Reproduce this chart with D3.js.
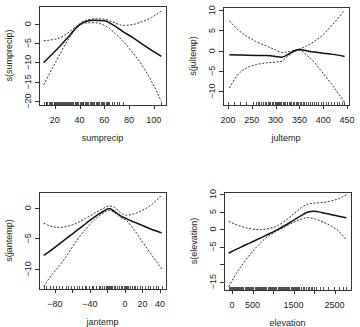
<!DOCTYPE html>
<html>
<head>
<meta charset="utf-8">
<script src="https://cdn.jsdelivr.net/npm/d3@7"></script>
<style>
body { margin: 0; background: #fff; }
svg text { font-family: "Liberation Sans", Arial, sans-serif; font-size: 9px; fill: #222; }
</style>
</head>
<body>
<svg id="chart" width="360" height="327"></svg>
<script>

// sumprecip
const sumprecipX     = [11, 18, 25, 32, 38, 45, 52, 60, 67, 75, 83, 90, 98, 106];
const sumprecipFit   = [-10, -7.8, -5.5, -3.0, -0.8, 0.6, 0.9, 0.8, -0.3, -2.0, -3.6, -5.1, -6.8, -8.4];
const sumprecipUpper = [-4.4, -4.1, -3.5, -2.0, -0.5, 0.9, 1.3, 1.2, 0.4, -0.4, -0.2, 0.5, 1.6, 3.3];
const sumprecipLower = [-15.8, -11.5, -7.3, -3.5, -0.9, 0.2, 0.3, -0.4, -2.0, -4.5, -7.5, -10.5, -14.8, -20];
const sumprecipRug   = [11, 12.5, 13, 14, 15.5, 16, 17, 18, 19, 19.5, 20, 21, 22, 22.5, 23, 24, 25, 26, 26.5, 27,
  28, 29, 30, 31, 31.5, 32, 33, 34, 35, 36, 36.5, 37, 38, 39, 40, 41, 42, 42.5, 43, 44, 45, 46, 47, 48, 49,
  50, 51, 52, 53, 54, 55, 56, 57, 58, 59, 60, 61, 62, 63, 64, 66, 68, 70, 72, 75, 106];
const sumprecipTicksX = [20, 40, 60, 80, 100];
const sumprecipTicksY = [0, -5, -10, -15, -20];

// jultemp
const jultempX     = [203, 220, 240, 260, 280, 300, 312, 325, 340, 350, 365, 380, 400, 420, 445];
const jultempFit   = [-1.0, -1.05, -1.1, -1.15, -1.2, -1.4, -1.6, -1.0, 0.0, 0.3, 0.0, -0.3, -0.6, -0.9, -1.4];
const jultempUpper = [7.4, 5.3, 3.5, 2.2, 1.2, 0.2, -0.4, -0.3, 0.1, 0.4, 1.2, 2.2, 4.0, 6.5, 10.0];
const jultempLower = [-9.2, -6.0, -4.2, -3.4, -3.0, -2.8, -2.6, -1.4, -0.2, 0.1, -1.0, -2.7, -5.6, -8.6, -12.8];
const jultempRug   = [200, 212, 226, 238, 252, 258, 262, 266, 270, 273, 277, 280, 283, 286, 289, 292, 295, 298,
  300, 302, 305, 307, 310, 312, 315, 317, 320, 323, 325, 328, 330, 333, 336, 339, 342, 345, 348, 351, 354,
  357, 360, 364, 368, 372, 376, 380, 385, 390, 395, 400, 405, 410, 416, 422, 428, 434, 440, 444];
const jultempTicksX = [200, 250, 300, 350, 400, 450];
const jultempTicksY = [10, 5, 0, -5, -10];

// jantemp
const jantempX     = [-93, -85, -75, -65, -55, -45, -35, -25, -18, -12, -5, 2, 10, 20, 30, 42];
const jantempFit   = [-7.8, -7.0, -5.9, -4.8, -3.7, -2.6, -1.5, -0.6, -0.1, -0.6, -1.3, -1.8, -2.3, -2.9, -3.5, -4.1];
const jantempUpper = [-2.5, -3.0, -3.2, -3.0, -2.5, -1.7, -0.9, -0.1, 0.3, 0.1, -0.8, -1.2, -1.0, -0.4, 0.5, 2.1];
const jantempLower = [-12.9, -11.2, -9.5, -7.5, -5.3, -3.5, -2.0, -0.9, -0.4, -0.8, -1.6, -2.1, -3.5, -5.6, -7.6, -10.0];
const jantempRug   = [-93, -90, -86, -82, -79, -75, -72, -68, -65, -62, -58, -55, -52, -49, -46, -44, -41, -38,
  -36, -33, -30, -28, -26, -24, -22, -20, -19, -18, -17, -16, -15, -13, -11, -9, -7, -5, -3, -1, 0, 1, 2,
  4, 6, 8, 10, 12, 14, 17, 20, 23, 26, 29, 32, 35, 38, 42];
const jantempTicksX = [-80, -60, -40, -20, 0, 20, 40];
const jantempLabelsX = [-80, -40, 0, 20, 40];
const jantempTicksY = [0, -5, -10];

// elevation
const elevationX     = [-80, 100, 300, 500, 700, 900, 1100, 1300, 1500, 1700, 1850, 2000, 2200, 2400, 2600, 2790];
const elevationFit   = [-6.9, -5.8, -4.7, -3.6, -2.5, -1.4, -0.2, 1.1, 2.5, 3.9, 4.9, 5.1, 4.7, 4.2, 3.7, 3.2];
const elevationUpper = [2.2, 1.3, 0.5, 0.0, -0.1, 0.2, 0.9, 2.4, 4.3, 6.2, 7.1, 7.4, 7.6, 8.0, 8.7, 9.8];
const elevationLower = [-16.5, -12.8, -9.4, -6.4, -3.9, -1.9, -0.5, 0.7, 1.9, 2.9, 3.3, 3.0, 2.1, 1.0, -0.6, -3.1];
const elevationRug   = [-80, -55, -30, -5, 20, 45, 70, 95, 120, 150, 175, 200, 230, 255, 280, 310, 335, 360,
  390, 415, 440, 470, 495, 520, 550, 575, 600, 630, 655, 680, 710, 735, 760, 790, 815, 840, 870, 895, 920,
  950, 975, 1000, 1030, 1055, 1080, 1110, 1135, 1160, 1190, 1215, 1240, 1270, 1295, 1320, 1350, 1375, 1400,
  1430, 1455, 1480, 1510, 1535, 1560, 1590, 1615, 1640, 1680, 1720, 1760, 1800, 1850, 1880, 1930, 1960,
  2010, 2060, 2140, 2230, 2350, 2480, 2600, 2700, 2790];
const elevationTicksX = [0, 500, 1000, 1500, 2000, 2500];
const elevationLabelsX = [0, 500, 1500, 2500];
const elevationTicksY = [10, 5, 0, -5, -10, -15];
const elevationLabelsY = [10, 5, 0, -5, -15];

const panels = [
  { name: "sumprecip", x: sumprecipX, fit: sumprecipFit, upper: sumprecipUpper, lower: sumprecipLower, rug: sumprecipRug,
    ticksX: sumprecipTicksX, ticksY: sumprecipTicksY,
    box: [39, 6, 166, 105], xDom: [7.2, 109.8], yDom: [-21, 4.6] },
  { name: "jultemp", x: jultempX, fit: jultempFit, upper: jultempUpper, lower: jultempLower, rug: jultempRug,
    ticksX: jultempTicksX, ticksY: jultempTicksY,
    box: [223, 7, 349, 105], xDom: [189.5, 454.2], yDom: [-13.4, 10.8] },
  { name: "jantemp", x: jantempX, fit: jantempFit, upper: jantempUpper, lower: jantempLower, rug: jantempRug,
    ticksX: jantempTicksX, labelsX: jantempLabelsX, ticksY: jantempTicksY,
    box: [39, 192, 166, 289], xDom: [-98.3, 46.9], yDom: [-13.3, 2.6] },
  { name: "elevation", x: elevationX, fit: elevationFit, upper: elevationUpper, lower: elevationLower, rug: elevationRug,
    ticksX: elevationTicksX, labelsX: elevationLabelsX, ticksY: elevationTicksY, labelsY: elevationLabelsY,
    box: [224, 192, 351, 290], xDom: [-195, 2902], yDom: [-17.4, 10.6] }
];

const svg = d3.select("#chart");
const fmt = v => String(v).replace("-", "\u2212");

panels.forEach(p => {
  const [l, t, r, b] = p.box;
  const x = d3.scaleLinear().domain(p.xDom).range([l, r]);
  const y = d3.scaleLinear().domain(p.yDom).range([b, t]);
  const g = svg.append("g");

  // curves
  const line = (ys) => d3.line()
    .x((d, i) => x(p.x[i]))
    .y(d => y(d))
    .curve(d3.curveMonotoneX)(ys);

  g.append("path").attr("d", line(p.upper))
    .attr("fill", "none").attr("stroke", "#333").attr("stroke-width", 1).attr("stroke-dasharray", "2,1.6");
  g.append("path").attr("d", line(p.lower))
    .attr("fill", "none").attr("stroke", "#333").attr("stroke-width", 1).attr("stroke-dasharray", "2,1.6");
  g.append("path").attr("d", line(p.fit))
    .attr("fill", "none").attr("stroke", "#111").attr("stroke-width", 1.5);

  // rug
  g.selectAll(".rug").data(p.rug).enter().append("line")
    .attr("x1", d => Math.round(x(d)) + 0.5).attr("x2", d => Math.round(x(d)) + 0.5)
    .attr("y1", b).attr("y2", b - 3)
    .attr("stroke", "#222").attr("stroke-width", 0.8);

  // box
  g.append("rect").attr("x", l + 0.5).attr("y", t + 0.5)
    .attr("width", r - l).attr("height", b - t)
    .attr("fill", "none").attr("stroke", "#333").attr("stroke-width", 1);

  // x axis
  const xa = g.append("g");
  p.ticksX.forEach(v => {
    const px = Math.round(x(v)) + 0.5;
    xa.append("line").attr("x1", px).attr("x2", px).attr("y1", b).attr("y2", b + 4)
      .attr("stroke", "#333");
  });
  (p.labelsX || p.ticksX).forEach(v => {
    xa.append("text").attr("x", x(v)).attr("y", b + 18)
      .attr("text-anchor", "middle").text(fmt(v));
  });
  xa.append("text").attr("x", (l + r) / 2).attr("y", b + 36)
    .attr("text-anchor", "middle").text(p.name);

  // y axis
  const ya = g.append("g");
  p.ticksY.forEach(v => {
    const py = Math.round(y(v)) + 0.5;
    ya.append("line").attr("x1", l - 4).attr("x2", l).attr("y1", py).attr("y2", py)
      .attr("stroke", "#333");
  });
  (p.labelsY || p.ticksY).forEach(v => {
    ya.append("text")
      .attr("transform", `translate(${l - 8},${y(v)}) rotate(-90)`)
      .attr("text-anchor", "middle").text(fmt(v));
  });
  ya.append("text")
    .attr("transform", `translate(${l - 27},${(t + b) / 2}) rotate(-90)`)
    .attr("text-anchor", "middle").text(`s(${p.name})`);
});
</script>
</body>
</html>
